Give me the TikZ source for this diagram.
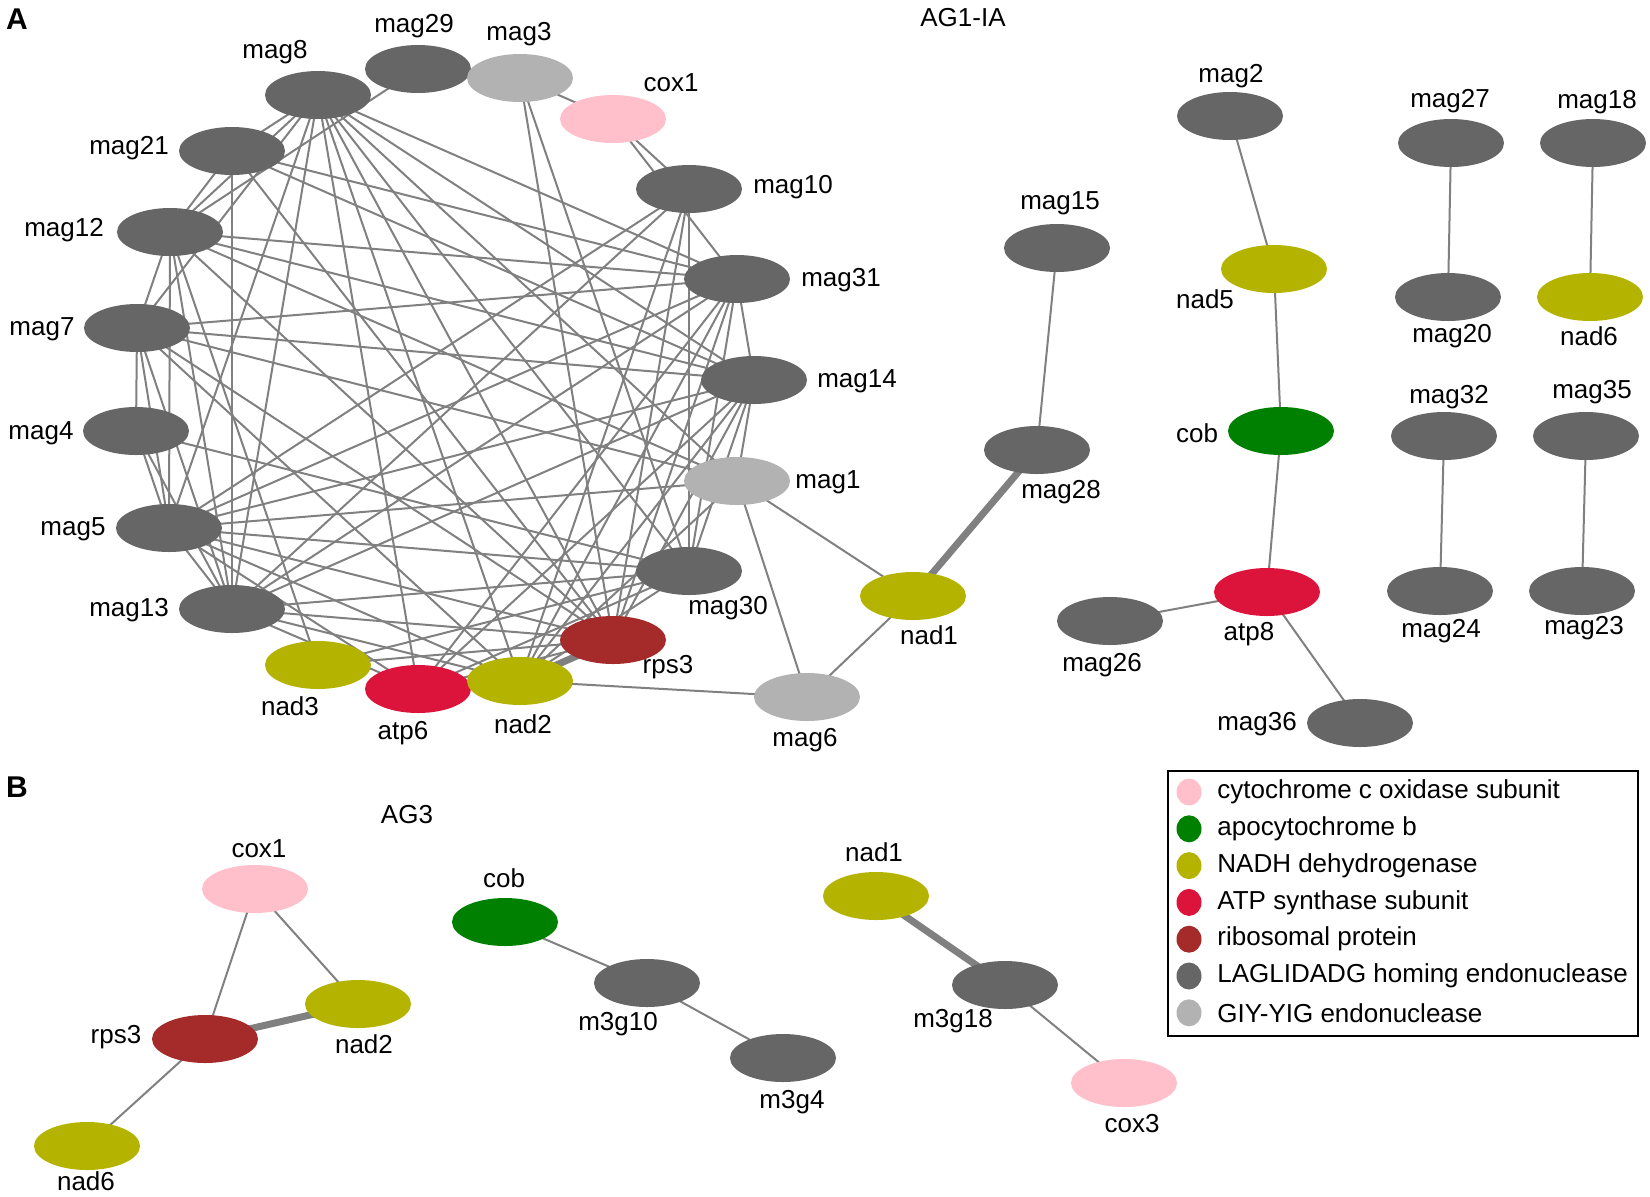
\documentclass[tikz,border=0pt]{standalone}
\usepackage{fontspec}
\setmainfont{Liberation Sans}
\usetikzlibrary{shapes.geometric,backgrounds}

\definecolor{laglidadg}{RGB}{102,102,102}
\definecolor{giyyig}{RGB}{178,178,178}
\definecolor{coxpink}{RGB}{255,192,203}
\definecolor{cobgreen}{RGB}{0,128,0}
\definecolor{nadolive}{RGB}{180,180,0}
\definecolor{atpred}{RGB}{220,20,60}
\definecolor{rpsbrown}{RGB}{165,42,42}
\definecolor{edgegray}{RGB}{128,128,128}

\tikzset{
  gene/.style={ellipse,minimum width=53pt,minimum height=24pt,inner sep=0pt},
  homing/.style={gene,fill=laglidadg},
  giy/.style={gene,fill=giyyig},
  cox/.style={gene,fill=coxpink},
  cyb/.style={gene,fill=cobgreen},
  nad/.style={gene,fill=nadolive},
  atp/.style={gene,fill=atpred},
  rps/.style={gene,fill=rpsbrown},
  lab/.style={font=\fontsize{13}{15}\selectfont,inner sep=0pt},
  panel/.style={font=\fontsize{15}{17}\selectfont\bfseries,inner sep=0pt},
  link/.style={draw=edgegray,line width=1pt},
  heavy/.style={draw=edgegray,line width=3.5pt},
  dot/.style={ellipse,minimum width=12.5pt,minimum height=13.5pt,inner sep=0pt},
}

\begin{document}
\begin{tikzpicture}[x=0.5pt,y=-0.5pt]
    \useasboundingbox (0,0) rectangle (1650,1196);

    % panel A, the ring
    \node[homing] (mag29) at (418,69) {};
    \node[giy] (mag3) at (520,78) {};
    \node[cox] (cox1) at (613,119) {};
    \node[homing] (mag8) at (318,95) {};
    \node[homing] (mag21) at (232,151) {};
    \node[homing] (mag10) at (689,189) {};
    \node[homing] (mag12) at (170,232) {};
    \node[homing] (mag31) at (737,279) {};
    \node[homing] (mag7) at (137,328) {};
    \node[homing] (mag14) at (754,380) {};
    \node[homing] (mag4) at (136,431) {};
    \node[giy] (mag1) at (737,481) {};
    \node[homing] (mag5) at (169,528) {};
    \node[homing] (mag30) at (689,571) {};
    \node[homing] (mag13) at (232,609) {};
    \node[rps] (rps3) at (613,640) {};
    \node[nad] (nad3) at (318,665) {};
    \node[atp] (atp6) at (418,689) {};
    \node[nad] (nad2) at (520,681) {};
    \node[giy] (mag6) at (807,697) {};

    % panel A, the rest
    \node[nad] (nad1) at (913,596) {};
    \node[homing] (mag28) at (1037,450) {};
    \node[homing] (mag15) at (1057,248) {};
    \node[homing] (mag2) at (1230,116) {};
    \node[nad] (nad5) at (1274,269) {};
    \node[cyb] (cob) at (1281,431) {};
    \node[atp] (atp8) at (1267,592) {};
    \node[homing] (mag26) at (1110,621) {};
    \node[homing] (mag36) at (1360,723) {};
    \node[homing] (mag27) at (1451,143) {};
    \node[homing] (mag20) at (1448,297) {};
    \node[homing] (mag18) at (1593,143) {};
    \node[nad] (nad6) at (1590,297) {};
    \node[homing] (mag32) at (1444,436) {};
    \node[homing] (mag24) at (1440,591) {};
    \node[homing] (mag35) at (1586,436) {};
    \node[homing] (mag23) at (1582,591) {};

    % panel B
    \node[cox] (b-cox1) at (255,889) {};
    \node[cyb] (b-cob) at (505,922) {};
    \node[nad] (b-nad1) at (876,896) {};
    \node[nad] (b-nad2) at (358,1004) {};
    \node[rps] (b-rps3) at (205,1039) {};
    \node[homing] (b-m3g10) at (647,983) {};
    \node[homing] (b-m3g18) at (1005,985) {};
    \node[homing] (b-m3g4) at (783,1058) {};
    \node[nad] (b-nad6) at (87,1146) {};
    \node[cox] (b-cox3) at (1124,1083) {};

    \begin{pgfonlayer}{background}
    \foreach \u/\v in {mag29/mag12, mag3/cox1, mag3/rps3, mag3/mag30,
        cox1/mag10, cox1/mag31,
        mag8/mag21, mag8/mag12, mag8/mag7, mag8/mag31, mag8/mag14, mag8/mag1,
        mag8/mag5, mag8/mag13, mag8/nad2, mag8/rps3, mag8/atp6, mag8/mag30,
        mag21/mag12, mag21/mag13, mag21/mag31, mag21/mag14, mag21/rps3,
        mag10/mag5, mag10/mag30, mag10/rps3, mag10/nad2, mag10/mag13,
        mag12/mag7, mag12/mag31, mag12/mag14, mag12/mag5, mag12/nad3,
        mag12/rps3, mag12/mag13, mag12/mag1,
        mag31/mag14, mag31/mag7, mag31/mag5, mag31/mag13, mag31/atp6,
        mag31/nad2, mag31/rps3, mag31/mag30,
        mag7/mag14, mag7/mag1, mag7/rps3, mag7/nad2, mag7/mag4, mag7/mag5, mag7/mag13,
        mag14/mag5, mag14/mag13, mag14/mag30, mag14/rps3, mag14/nad2,
        mag14/atp6, mag14/mag1,
        mag4/mag5, mag4/mag30, mag4/mag13, mag1/mag5, mag1/nad2,
        mag5/mag13, mag5/mag30, mag5/rps3, mag5/nad2, mag5/atp6,
        mag30/nad3, mag30/nad2, mag30/atp6,
        mag13/mag30, mag13/rps3, mag13/nad2, mag13/atp6,
        nad3/rps3, atp6/rps3,
        mag15/mag28, nad1/mag1, nad1/mag6, mag1/mag6, mag6/nad2,
        mag2/nad5, nad5/cob, cob/atp8, atp8/mag26, atp8/mag36,
        mag27/mag20, mag18/nad6, mag32/mag24, mag35/mag23,
        b-cox1/b-rps3, b-cox1/b-nad2, b-rps3/b-nad6, b-cob/b-m3g10,
        b-m3g10/b-m3g4, b-m3g18/b-cox3}
        \draw[link] (\u.center) -- (\v.center);
    \foreach \u/\v in {mag28/nad1, nad2/rps3, b-rps3/b-nad2, b-nad1/b-m3g18}
        \draw[heavy] (\u.center) -- (\v.center);
    \end{pgfonlayer}

    % labels
    \node[lab] (mag29-l) at (414,26) {mag29};
    \node[lab] (mag3-l) at (519,34) {mag3};
    \node[lab] (cox1-l) at (671,83) {cox1};
    \node[lab] (mag8-l) at (275,52) {mag8};
    \node[lab] (mag21-l) at (129,148) {mag21};
    \node[lab] (mag10-l) at (793,187) {mag10};
    \node[lab] (mag12-l) at (64,230) {mag12};
    \node[lab] (mag31-l) at (841,280) {mag31};
    \node[lab] (mag7-l) at (42,329) {mag7};
    \node[lab] (mag14-l) at (857,381) {mag14};
    \node[lab] (mag4-l) at (41,433) {mag4};
    \node[lab] (mag1-l) at (828,482) {mag1};
    \node[lab] (mag5-l) at (73,529) {mag5};
    \node[lab] (mag30-l) at (728,608) {mag30};
    \node[lab] (mag13-l) at (129,610) {mag13};
    \node[lab] (rps3-l) at (668,667) {rps3};
    \node[lab] (nad3-l) at (290,706) {nad3};
    \node[lab] (atp6-l) at (403,733) {atp6};
    \node[lab] (nad2-l) at (523,724) {nad2};
    \node[lab] (mag6-l) at (805,740) {mag6};
    \node[lab] (nad1-l) at (929,635) {nad1};
    \node[lab] (mag28-l) at (1061,492) {mag28};
    \node[lab] (mag15-l) at (1060,203) {mag15};
    \node[lab] (mag2-l) at (1231,76) {mag2};
    \node[lab] (nad5-l) at (1205,299) {nad5};
    \node[lab] (cob-l) at (1197,433) {cob};
    \node[lab] (atp8-l) at (1249,634) {atp8};
    \node[lab] (mag26-l) at (1102,665) {mag26};
    \node[lab] (mag36-l) at (1257,724) {mag36};
    \node[lab] (mag27-l) at (1450,101) {mag27};
    \node[lab] (mag20-l) at (1452,336) {mag20};
    \node[lab] (mag18-l) at (1597,102) {mag18};
    \node[lab] (nad6-l) at (1589,336) {nad6};
    \node[lab] (mag32-l) at (1449,397) {mag32};
    \node[lab] (mag24-l) at (1441,631) {mag24};
    \node[lab] (mag35-l) at (1592,392) {mag35};
    \node[lab] (mag23-l) at (1584,628) {mag23};

    \node[lab] (b-cox1-l) at (259,849) {cox1};
    \node[lab] (b-cob-l) at (504,878) {cob};
    \node[lab] (b-nad1-l) at (874,852) {nad1};
    \node[lab] (b-nad2-l) at (364,1044) {nad2};
    \node[lab] (b-rps3-l) at (116,1037) {rps3};
    \node[lab] (b-m3g10-l) at (618,1024) {m3g10};
    \node[lab] (b-m3g18-l) at (953,1021) {m3g18};
    \node[lab] (b-m3g4-l) at (792,1102) {m3g4};
    \node[lab] (b-nad6-l) at (86,1181) {nad6};
    \node[lab] (b-cox3-l) at (1132,1124) {cox3};

    \node[panel] (panelA) at (17,19) {A};
    \node[panel] (panelB) at (17,787) {B};
    \node[lab] (titleA) at (963,18) {AG1-IA};
    \node[lab] (titleB) at (407,815) {AG3};

    % legend
    \draw[line width=0.75pt] (1168,771) rectangle (1638,1036);
    \foreach \c/\t [count=\i from 0] in {coxpink/cytochrome c oxidase subunit,
        cobgreen/apocytochrome b, nadolive/NADH dehydrogenase,
        atpred/ATP synthase subunit, rpsbrown/ribosomal protein,
        laglidadg/LAGLIDADG homing endonuclease, giyyig/GIY-YIG endonuclease}
    {
        \node[dot,fill=\c] (key\i) at (1189,792+36.8*\i) {};
        \node[lab,anchor=west] (keytext\i) at (1217,792+36.8*\i) {\t};
    }
\end{tikzpicture}
\end{document}
